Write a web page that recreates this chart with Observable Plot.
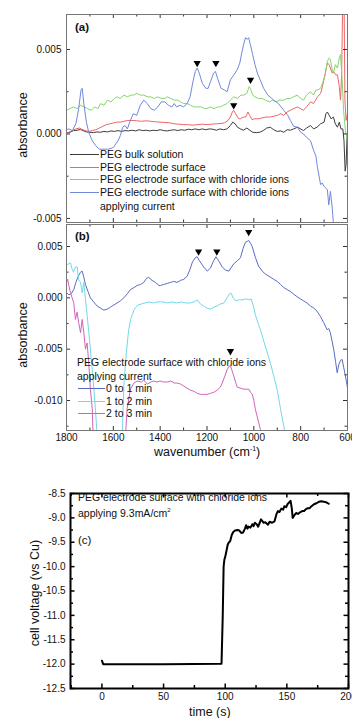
<!DOCTYPE html>
<html><head><meta charset="utf-8">
<script src="https://cdn.jsdelivr.net/npm/d3@7"></script>
<script src="https://cdn.jsdelivr.net/npm/@observablehq/plot@0.6"></script>
<style>
html,body{margin:0;padding:0;background:#fff;}
body{width:352px;height:718px;overflow:hidden;font-family:"Liberation Sans",Arial,sans-serif;color:#111;}
#root{position:relative;width:352px;height:718px;overflow:hidden;}
.panel{position:absolute;left:0;}
.t{position:absolute;white-space:nowrap;line-height:1;transform:translateY(-50%);}
.rot{position:absolute;white-space:nowrap;line-height:1;transform:translate(-50%,-50%) rotate(-90deg);}
.sw{position:absolute;height:0;border-top:1.2px solid;}
</style></head>
<body><div id="root"></div>
<script>
// ---------- DATA ----------
// Panel (a): [wavenumber cm-1, absorbance]
const aBulk = [[1800,0.00005],[1785,0.0001],[1770,0.0002],[1755,0.00022],[1740,0.00027],[1730,0.0002],[1715,0.00012],[1700,0.0001],[1685,0.00008],[1670,0.00012],[1655,0.0001],[1640,0.00015],[1625,0.00012],[1610,0.00018],[1595,0.00015],[1580,0.0002],[1565,0.00015],[1550,0.0002],[1535,0.00018],[1520,0.00022],[1505,0.00018],[1490,0.00025],[1475,0.0002],[1460,0.00022],[1445,0.00018],[1430,0.00022],[1415,0.0002],[1400,0.00025],[1385,0.0002],[1370,0.00018],[1355,0.00022],[1340,0.00025],[1325,0.0002],[1310,0.00025],[1295,0.00022],[1280,0.00028],[1265,0.00025],[1250,0.0003],[1235,0.00025],[1220,0.0003],[1205,0.00025],[1190,0.0003],[1175,0.00028],[1160,0.00022],[1145,0.0003],[1130,0.00025],[1115,0.0003],[1100,0.0005],[1090,0.0007],[1080,0.0006],[1070,0.0004],[1057,0.0003],[1045,0.00022],[1030,0.00035],[1020,0.00025],[1005,0.0001],[990,0.00008],[975,0.0001],[960,0.0002],[945,0.00035],[930,0.0004],[915,0.00025],[900,0.00015],[885,0.00018],[872,0.0001],[858,0.00025],[844,0.00022],[830,0.0003],[814,0.0004],[800,0.0003],[788,0.0002],[775,0.00035],[758,0.0005],[745,0.0003],[730,0.0004],[715,0.0006],[700,0.0007],[692,0.0012],[686,0.0013],[678,0.0011],[670,0.0009],[660,0.001],[652,0.0006],[643,0.0004],[635,0.0007],[628,0.0003],[620,0.0003],[615,-0.0004],[610,-0.0022],[606,-0.0018],[602,-0.0002],[600,0.0]];
const aSurface = [[1800,0.00005],[1790,0.0001],[1775,0.0002],[1760,0.0003],[1745,0.00035],[1735,0.00028],[1720,0.0002],[1705,0.00015],[1690,0.0002],[1675,0.00025],[1660,0.00035],[1645,0.00045],[1630,0.00055],[1615,0.0006],[1600,0.00065],[1585,0.0007],[1570,0.0007],[1555,0.00075],[1540,0.0008],[1520,0.0008],[1500,0.00078],[1480,0.00075],[1460,0.00078],[1441,0.00075],[1420,0.00072],[1400,0.0007],[1380,0.00068],[1360,0.00066],[1340,0.0006],[1320,0.00058],[1300,0.00055],[1280,0.00055],[1260,0.00052],[1240,0.00055],[1220,0.00058],[1200,0.00055],[1180,0.00058],[1160,0.0006],[1140,0.00062],[1125,0.00066],[1110,0.0008],[1100,0.001],[1092,0.0013],[1086,0.0014],[1078,0.0012],[1065,0.0009],[1057,0.0009],[1045,0.001],[1035,0.001],[1025,0.0013],[1018,0.0011],[1008,0.00085],[995,0.0009],[980,0.0009],[965,0.00095],[950,0.001],[930,0.001],[915,0.00105],[900,0.0011],[885,0.0012],[872,0.0011],[858,0.0013],[844,0.0014],[830,0.0015],[814,0.0016],[800,0.0015],[788,0.0014],[775,0.0016],[758,0.0019],[745,0.0018],[728,0.0022],[715,0.0024],[707,0.0028],[695,0.0036],[686,0.0042],[678,0.0041],[673,0.0039],[665,0.0036],[660,0.0037],[650,0.0035],[643,0.0035],[635,0.0028],[630,0.002],[625,0.0035],[620,0.0085],[615,0.0085],[611,0.002],[606,0.0008],[600,0.0012]];
const aChloride = [[1800,0.0014],[1785,0.0015],[1770,0.0016],[1755,0.0015],[1740,0.0017],[1725,0.0016],[1710,0.0015],[1695,0.0014],[1680,0.0016],[1665,0.0015],[1655,0.0018],[1640,0.0017],[1625,0.002],[1610,0.0019],[1595,0.0021],[1584,0.0022],[1570,0.0021],[1555,0.0023],[1540,0.0022],[1525,0.0023],[1513,0.0023],[1500,0.0024],[1485,0.0023],[1470,0.0023],[1455,0.0022],[1441,0.0022],[1425,0.0021],[1410,0.0022],[1395,0.0021],[1380,0.0021],[1370,0.0022],[1355,0.0021],[1340,0.002],[1325,0.002],[1313,0.0019],[1300,0.0018],[1285,0.0018],[1270,0.0017],[1256,0.0016],[1240,0.0016],[1225,0.0016],[1210,0.0015],[1200,0.0015],[1185,0.0016],[1170,0.0015],[1155,0.0016],[1143,0.0016],[1130,0.0017],[1114,0.0018],[1100,0.002],[1086,0.0022],[1070,0.0021],[1055,0.0023],[1043,0.0023],[1030,0.0024],[1020,0.0028],[1015,0.0027],[1005,0.0023],[995,0.0022],[980,0.0021],[965,0.0021],[950,0.002],[935,0.0019],[920,0.002],[905,0.0019],[890,0.002],[872,0.002],[858,0.0021],[844,0.0021],[830,0.0022],[814,0.0023],[800,0.0021],[788,0.002],[775,0.0023],[758,0.0025],[745,0.0023],[735,0.0026],[728,0.0026],[715,0.0027],[707,0.003],[695,0.0035],[686,0.0043],[678,0.0045],[673,0.0044],[665,0.0038],[660,0.0036],[652,0.0041],[643,0.0039],[635,0.0045],[630,0.0047],[622,0.003],[617,0.0014],[609,0.0002],[600,-0.0004]];
const aCurrent = [[1800,0.00025],[1790,0.0003],[1775,0.0002],[1760,0.0006],[1748,0.0015],[1738,0.0026],[1733,0.0027],[1726,0.0018],[1715,0.0007],[1705,0.0001],[1690,-0.0004],[1675,-0.0007],[1660,-0.0009],[1640,-0.0009],[1620,-0.0009],[1600,-0.0008],[1590,-0.0006],[1580,-0.0004],[1570,-0.0001],[1560,0.0004],[1550,0.0005],[1540,0.0003],[1530,0.0007],[1515,0.0012],[1500,0.0011],[1485,0.0017],[1470,0.002],[1455,0.0018],[1440,0.0015],[1425,0.0014],[1410,0.0016],[1395,0.0019],[1380,0.0019],[1365,0.0017],[1350,0.0016],[1340,0.0018],[1330,0.0016],[1315,0.0017],[1300,0.0016],[1285,0.0018],[1272,0.0022],[1260,0.0031],[1250,0.0037],[1242,0.0039],[1233,0.0036],[1220,0.003],[1205,0.0027],[1195,0.0027],[1185,0.0031],[1172,0.0036],[1164,0.0037],[1155,0.0033],[1140,0.0027],[1125,0.0026],[1114,0.0025],[1100,0.0032],[1085,0.0035],[1071,0.0038],[1060,0.0042],[1050,0.0049],[1040,0.0055],[1035,0.0057],[1028,0.0056],[1022,0.0057],[1015,0.0053],[1005,0.0047],[995,0.0041],[985,0.0036],[970,0.0031],[958,0.0027],[940,0.0023],[915,0.002],[895,0.0018],[872,0.0014],[855,0.0011],[844,0.0008],[830,0.00045],[814,0.0004],[800,0.0001],[788,0.0],[775,-0.0002],[758,-0.0004],[744,-0.001],[735,-0.0013],[728,-0.002],[720,-0.0026],[715,-0.003],[708,-0.0029],[700,-0.0031],[686,-0.0033],[680,-0.0042],[673,-0.0034],[665,-0.0044],[659,-0.0055],[645,-0.006]];
const aMarkers = [[1242,0.0042],[1162,0.0042],[1014,0.0032],[1086,0.0017]];

// Panel (b): time-resolved spectra
const b0to1 = [[1800,0.0005],[1790,0.0003],[1780,0.0004],[1769,0.0008],[1760,0.0015],[1750,0.0021],[1740,0.0025],[1733,0.0026],[1726,0.002],[1719,0.0013],[1708,0.0006],[1698,0.0],[1684,-0.0004],[1669,-0.0008],[1655,-0.001],[1641,-0.0012],[1626,-0.0011],[1612,-0.0009],[1598,-0.0007],[1584,-0.0005],[1570,-0.0003],[1555,0.0],[1540,0.0004],[1527,0.0008],[1512,0.001],[1498,0.0012],[1484,0.0013],[1470,0.0015],[1458,0.0019],[1449,0.002],[1435,0.0017],[1420,0.0015],[1405,0.0012],[1399,0.0012],[1385,0.0013],[1370,0.0014],[1355,0.0015],[1342,0.0016],[1328,0.0015],[1313,0.0017],[1299,0.0018],[1285,0.0021],[1272,0.0028],[1262,0.0035],[1250,0.0039],[1242,0.004],[1232,0.0036],[1214,0.003],[1199,0.0026],[1185,0.0029],[1172,0.0036],[1162,0.004],[1150,0.0036],[1135,0.003],[1121,0.0027],[1107,0.0026],[1095,0.003],[1086,0.0033],[1071,0.0036],[1057,0.0039],[1046,0.0048],[1036,0.0054],[1028,0.0055],[1022,0.0056],[1014,0.0053],[1007,0.005],[993,0.0039],[980,0.0031],[964,0.0026],[950,0.0023],[935,0.0021],[915,0.0018],[900,0.0016],[886,0.0013],[872,0.001],[858,0.0008],[843,0.0006],[829,0.00035],[815,0.0001],[801,-0.0001],[787,-0.0003],[773,-0.0005],[758,-0.0008],[744,-0.001],[730,-0.0013],[716,-0.0018],[702,-0.0024],[687,-0.0031],[680,-0.003],[673,-0.0034],[666,-0.0042],[659,-0.005],[651,-0.0062],[644,-0.0073],[637,-0.0065],[630,-0.0061],[623,-0.006],[616,-0.0068],[609,-0.0076],[602,-0.0085],[597,-0.0092]];
const b1to2 = [[1800,0.0032],[1792,0.0033],[1783,0.0034],[1776,0.0028],[1770,0.0025],[1762,0.003],[1754,0.003],[1749,0.0018],[1740,0.0015],[1733,0.0005],[1726,0.0015],[1719,-0.0001],[1712,-0.0017],[1705,-0.0033],[1698,-0.005],[1690,-0.007],[1683,-0.0089],[1676,-0.011],[1669,-0.0135],[1660,-0.016],[1570,-0.016],[1562,-0.0135],[1555,-0.0085],[1545,-0.0055],[1535,-0.0032],[1525,-0.002],[1510,-0.0011],[1495,-0.0007],[1480,-0.0006],[1465,-0.0005],[1450,-0.0004],[1430,-0.0005],[1410,-0.0004],[1390,-0.0004],[1370,-0.0005],[1350,-0.0004],[1330,-0.0005],[1310,-0.0004],[1290,-0.0005],[1270,-0.0005],[1255,-0.0004],[1242,-0.0002],[1228,-0.0006],[1214,-0.0008],[1200,-0.001],[1185,-0.0011],[1170,-0.0009],[1157,-0.0008],[1143,-0.0006],[1128,-0.0005],[1114,0.0],[1104,0.0004],[1097,0.00045],[1088,0.0],[1078,-0.0003],[1065,-0.0002],[1050,-0.0002],[1035,-0.0001],[1020,-0.0002],[1012,-0.0001],[1003,-0.0007],[993,-0.0017],[980,-0.0026],[972,-0.0031],[958,-0.0042],[943,-0.0053],[929,-0.0064],[915,-0.0076],[900,-0.009],[886,-0.0108],[872,-0.0125],[865,-0.0135],[860,-0.016]];
const b2to3 = [[1800,0.0015],[1795,0.0018],[1790,0.0012],[1783,0.0005],[1776,0.0],[1769,-0.0005],[1762,-0.0021],[1755,-0.0014],[1748,-0.0024],[1740,-0.0034],[1733,-0.0021],[1726,-0.0034],[1719,-0.005],[1712,-0.0044],[1705,-0.0063],[1698,-0.0089],[1690,-0.0108],[1683,-0.016],[1555,-0.016],[1541,-0.0108],[1527,-0.0089],[1512,-0.0083],[1498,-0.0081],[1480,-0.0082],[1470,-0.008],[1455,-0.0084],[1440,-0.0082],[1427,-0.0081],[1413,-0.0082],[1400,-0.0081],[1385,-0.0082],[1370,-0.0082],[1355,-0.0081],[1340,-0.0083],[1327,-0.0083],[1313,-0.0084],[1299,-0.0086],[1285,-0.0088],[1270,-0.009],[1256,-0.0091],[1242,-0.0093],[1228,-0.0094],[1214,-0.0094],[1200,-0.0094],[1185,-0.0093],[1171,-0.0092],[1157,-0.009],[1143,-0.0087],[1135,-0.0083],[1125,-0.0077],[1114,-0.007],[1107,-0.0067],[1100,-0.0066],[1093,-0.0071],[1086,-0.0076],[1078,-0.0082],[1071,-0.0087],[1057,-0.0088],[1043,-0.0089],[1030,-0.0089],[1021,-0.0089],[1014,-0.0092],[1007,-0.0094],[1000,-0.01],[993,-0.0109],[983,-0.0118],[972,-0.0128],[965,-0.016]];
const bMarkers = [[1236,0.0045],[1158,0.0045],[1022,0.0064],[1100,-0.0052]];

// Panel (c): cell voltage vs time  [s, V vs Cu]
const cVoltage = [[0,-11.93],[1,-12.0],[10,-12.0],[25,-12.0],[50,-12.0],[75,-11.995],[97,-11.99],[98,-11.0],[98.7,-10.0],[99.3,-9.86],[100,-9.8],[101,-9.68],[102,-9.55],[103,-9.5],[104,-9.48],[105.3,-9.35],[106.5,-9.29],[108,-9.26],[110,-9.25],[111.5,-9.26],[113,-9.31],[114.5,-9.3],[116,-9.22],[117,-9.15],[118,-9.22],[119,-9.18],[120.5,-9.2],[122,-9.13],[123,-9.17],[124,-9.1],[125.5,-9.13],[126.7,-9.18],[128,-9.1],[129,-9.03],[130,-9.06],[131,-9.1],[132.5,-9.09],[134.7,-9.14],[136,-9.08],[138,-9.1],[140,-9.07],[141.5,-8.93],[142.7,-8.86],[144,-8.88],[145.5,-8.81],[147,-8.83],[148,-8.76],[149.5,-8.78],[150.5,-8.72],[152,-8.68],[153,-8.65],[154,-8.8],[154.7,-9.0],[156,-8.95],[157.5,-8.9],[159,-8.92],[161,-8.88],[162.5,-8.86],[164,-8.86],[165.5,-8.82],[167,-8.8],[168.5,-8.8],[170,-8.76],[172,-8.72],[174,-8.7],[176,-8.67],[178,-8.66],[180,-8.67],[182,-8.68],[184,-8.71]];

// Tick values
const wnMajor = [1800,1600,1400,1200,1000,800,600];
const wnMinor = [1700,1500,1300,1100,900,700];
const aYMajor = [0.005,0,-0.005];
const aYMinor = [0.0025,-0.0025];
const bYMajor = [0.005,0,-0.005,-0.010];
const bYMinor = [0.0025,-0.0025,-0.0075,-0.0125];
const cXMajor = [0,50,100,150,200];
const cXMinor = [-25,25,75,125,175];
const cYMajor = [-12.5,-12.0,-11.5,-11.0,-10.5,-10.0,-9.5,-9.0,-8.5];
const cYMinor = [-12.25,-11.75,-11.25,-10.75,-10.25,-9.75,-9.25,-8.75];

// Labels
const aSeries = ["PEG bulk solution","PEG electrode surface","PEG electrode surface with chloride ions","PEG electrode surface with chloride ions"];
const bSeries = ["0 to 1 min","1 to 2 min","2 to 3 min"];
const aColors = ["#3c3c3c","#f06464","#86d470","#7089dc"];
const bColors = ["#5a6cc0","#72d8e8","#d462bb"];

// ---------- RENDER ----------
const root = document.getElementById("root");
const W = 352;
const FONT = '"Liberation Sans", Arial, sans-serif';
const fmt3 = d => d.toFixed(3);

function ticks(xs, ys, innerW, innerH, stroke, sw, maj, min, xMin, yMin) {
  return [
    Plot.tickX(xs, {x: d => d, insetBottom: innerH - maj, stroke, strokeWidth: sw}),
    Plot.tickX(xs, {x: d => d, insetTop: innerH - maj, stroke, strokeWidth: sw}),
    Plot.tickX(xMin, {x: d => d, insetBottom: innerH - min, stroke, strokeWidth: sw}),
    Plot.tickX(xMin, {x: d => d, insetTop: innerH - min, stroke, strokeWidth: sw}),
    Plot.tickY(ys, {y: d => d, insetRight: innerW - maj, stroke, strokeWidth: sw}),
    Plot.tickY(ys, {y: d => d, insetLeft: innerW - maj, stroke, strokeWidth: sw}),
    Plot.tickY(yMin, {y: d => d, insetRight: innerW - min, stroke, strokeWidth: sw}),
    Plot.tickY(yMin, {y: d => d, insetLeft: innerW - min, stroke, strokeWidth: sw})
  ];
}

function place(svg, top) {
  const d = document.createElement("div");
  d.className = "panel"; d.style.top = top + "px";
  d.appendChild(svg); root.appendChild(d);
}

// Panel a
{
  const mL = 66, mR = 5, mT = 14, mB = 2, H = 224;
  const iW = W - mL - mR, iH = H - mT - mB;
  const svg = Plot.plot({
    width: W, height: H, marginLeft: mL, marginRight: mR, marginTop: mT, marginBottom: mB,
    style: {fontFamily: FONT, fontSize: "10px", background: "transparent", color: "#111"},
    x: {domain: [1800, 600], axis: null},
    y: {domain: [-0.00524, 0.00707]},
    marks: [
      Plot.line(aBulk, {x: d => d[0], y: d => d[1], stroke: aColors[0], strokeWidth: 1, clip: true}),
      Plot.line(aSurface, {x: d => d[0], y: d => d[1], stroke: aColors[1], strokeWidth: 1, clip: true}),
      Plot.line(aChloride, {x: d => d[0], y: d => d[1], stroke: aColors[2], strokeWidth: 1, clip: true}),
      Plot.line(aCurrent, {x: d => d[0], y: d => d[1], stroke: aColors[3], strokeWidth: 1, clip: true}),
      Plot.dot(aMarkers, {x: d => d[0], y: d => d[1], symbol: "triangle", r: 2.7, fill: "#000", rotate: 180}),
      ...ticks(wnMajor, aYMajor, iW, iH, "#333", 1, 4, 2.5, wnMinor, aYMinor),
      Plot.axisY(aYMajor, {tickSize: 0, tickPadding: 5, tickFormat: fmt3, label: null, fontSize: 10}),
      Plot.frame({stroke: "#777", strokeWidth: 1})
    ]
  });
  place(svg, 0);
}

// Panel b
{
  const mL = 66, mR = 5, mT = 2, mB = 30, H = 238;
  const iW = W - mL - mR, iH = H - mT - mB;
  const svg = Plot.plot({
    width: W, height: H, marginLeft: mL, marginRight: mR, marginTop: mT, marginBottom: mB,
    style: {fontFamily: FONT, fontSize: "10px", background: "transparent", color: "#111"},
    x: {domain: [1800, 600]},
    y: {domain: [-0.01292, 0.00714]},
    marks: [
      Plot.line(b0to1, {x: d => d[0], y: d => d[1], stroke: bColors[0], strokeWidth: 1, clip: true}),
      Plot.line(b1to2, {x: d => d[0], y: d => d[1], stroke: bColors[1], strokeWidth: 1, clip: true}),
      Plot.line(b2to3, {x: d => d[0], y: d => d[1], stroke: bColors[2], strokeWidth: 1, clip: true}),
      Plot.dot(bMarkers, {x: d => d[0], y: d => d[1], symbol: "triangle", r: 2.7, fill: "#000", rotate: 180}),
      ...ticks(wnMajor, bYMajor, iW, iH, "#333", 1, 4, 2.5, wnMinor, bYMinor),
      Plot.axisY(bYMajor, {tickSize: 0, tickPadding: 4, tickFormat: fmt3, label: null, fontSize: 10}),
      Plot.axisX(wnMajor, {tickSize: 0, tickPadding: 3, tickFormat: d => String(d), label: null, fontSize: 10}),
      Plot.frame({stroke: "#777", strokeWidth: 1})
    ]
  });
  place(svg, 222);
}

// Panel c
{
  const mL = 70, mR = 4, mT = 13, mB = 30, H = 238;
  const iW = W - mL - mR, iH = H - mT - mB;
  const svg = Plot.plot({
    width: W, height: H, marginLeft: mL, marginRight: mR, marginTop: mT, marginBottom: mB,
    style: {fontFamily: FONT, fontSize: "10px", background: "transparent", color: "#111"},
    x: {domain: [-25.5, 200]},
    y: {domain: [-12.5, -8.5]},
    marks: [
      Plot.line(cVoltage, {x: d => d[0], y: d => d[1], stroke: "#000", strokeWidth: 2, clip: true}),
      ...ticks(cXMajor, cYMajor, iW, iH, "#000", 1.5, 4.5, 3, cXMinor, cYMinor),
      Plot.axisY(cYMajor, {tickSize: 0, tickPadding: 5, tickFormat: d => d.toFixed(1), label: null, fontSize: 10}),
      Plot.axisX(cXMajor, {tickSize: 0, tickPadding: 4, tickFormat: d => String(d), label: null, fontSize: 10}),
      Plot.frame({stroke: "#000", strokeWidth: 2})
    ]
  });
  place(svg, 480);
}

// ---------- Text overlays ----------
function text(str, x, y, size, extra = "") {
  const d = document.createElement("div");
  d.className = "t"; d.innerHTML = str;
  d.style.cssText = `left:${x}px;top:${y}px;font-size:${size}px;${extra}`;
  root.appendChild(d);
}
function rtext(str, x, y, size) {
  const d = document.createElement("div");
  d.className = "rot"; d.textContent = str;
  d.style.cssText = `left:${x}px;top:${y}px;font-size:${size}px;`;
  root.appendChild(d);
}
function swatch(x1, x2, y, color) {
  const d = document.createElement("div");
  d.className = "sw";
  d.style.cssText = `left:${x1}px;width:${x2 - x1}px;top:${y}px;border-color:${color};`;
  root.appendChild(d);
}

text("(a)", 75, 28, 11.5, "font-weight:bold;");
text("(b)", 75, 237, 11.5, "font-weight:bold;");
text("(c)", 78, 541, 11.5);

rtext("absorbance", 23, 125, 12.5);
rtext("absorbance", 23, 335, 12.5);
rtext("cell voltage (vs Cu)", 35, 593, 12.5);
text('wavenumber (cm<sup style="font-size:7px;vertical-align:5px">-1</sup>)', 154, 452, 12.5);
text("time (s)", 189, 712, 12.5);

// legend a
const aRows = [154, 166.5, 179, 192];
aSeries.forEach((s, i) => { swatch(70, 99, aRows[i], aColors[i]); text(s, 100, aRows[i], 10.5); });
text("applying current", 100, 206, 10.5);

// legend b
text("PEG electrode surface with chloride ions", 77, 362, 10.5);
text("applying current", 77, 376, 10.5);
const bRows = [388, 401, 413];
bSeries.forEach((s, i) => { swatch(78, 105, bRows[i], bColors[i]); text(s, 106, bRows[i], 10.5); });

// panel c annotation
text("PEG electrode surface with chloride ions", 78, 497, 10.5);
text('applying 9.3mA/cm<sup style="font-size:6px;vertical-align:5px">2</sup>', 78, 513, 10.5);
</script>
</body></html>
